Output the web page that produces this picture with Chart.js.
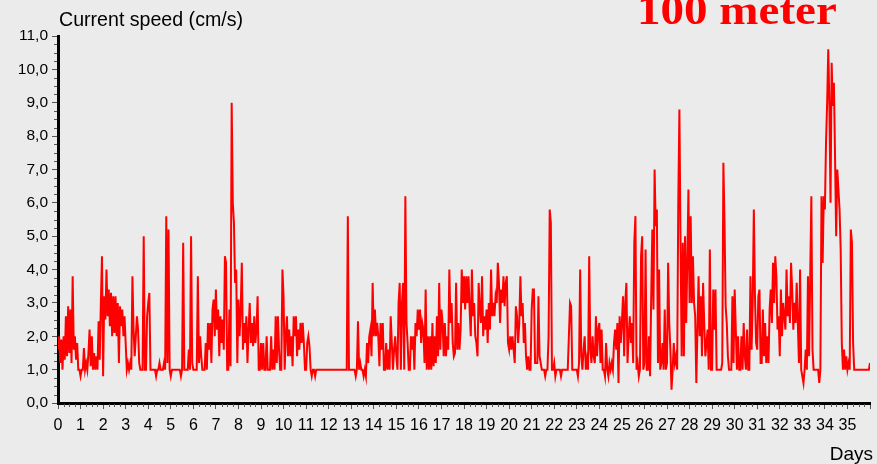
<!DOCTYPE html>
<html><head><meta charset="utf-8">
<script src="https://cdn.jsdelivr.net/npm/chart.js@4/dist/chart.umd.min.js"></script>
<style>
html,body{margin:0;padding:0;background:#ebebeb;}
#wrap{position:relative;width:877px;height:464px;overflow:hidden;background:#ebebeb;}
canvas{position:absolute;left:0;top:0;}
.t{position:absolute;white-space:nowrap;font-family:"Liberation Sans",Arial,sans-serif;color:#000;}
</style></head><body>
<div id="wrap">
<canvas id="c" width="877" height="464"></canvas>
<div class="t" id="ylab" style="left:59px;top:10px;font-size:19.6px;line-height:19.6px;">Current speed (cm/s)</div>
<div class="t" id="xlab" style="right:4px;top:444px;font-size:19px;line-height:19px;">Days</div>
<div class="t" id="ttl" style="left:637px;top:-11px;font-family:'Liberation Serif','Times New Roman',serif;font-weight:bold;font-size:42px;line-height:42px;color:#ff0000;transform:scaleX(1.12);transform-origin:0 0;">100 meter</div>
</div>
<script>
// Sampling interval of the series (days)
const STEP_DAYS = 0.05;
// Current speed (cm/s), one value every 0.05 day from day 0 to day 36 (10 values per row = 0.5 day)
const speed = [
1.6,2.0,1.2,1.9,1.0,2.0,1.3,2.6,1.4,2.9,
1.5,2.8,1.2,3.8,1.6,2.0,1.3,1.8,1.0,1.0,
0.8,1.0,1.0,1.65,1.0,1.2,1.0,1.5,2.2,1.1,
2.0,1.0,1.5,1.0,1.4,1.0,2.45,1.3,3.0,4.4,
0.8,3.2,2.5,4.0,2.6,3.4,2.3,3.3,2.0,3.2,
2.1,3.2,2.0,3.0,1.2,2.9,2.3,2.8,2.0,2.6,
1.8,1.0,1.2,1.0,1.2,1.0,3.8,2.2,1.4,2.0,
2.6,2.2,1.2,1.0,1.0,1.0,5.0,1.0,1.0,2.6,
3.0,3.3,1.0,1.0,1.0,1.0,1.0,0.8,1.0,1.0,
1.2,1.0,1.0,1.0,1.2,1.0,5.6,1.2,5.2,1.0,
0.8,1.0,1.0,1.0,1.0,1.0,1.0,1.0,1.0,0.8,
1.0,4.8,1.0,1.0,1.0,1.0,1.6,1.0,5.0,1.2,
1.0,1.0,1.0,1.0,3.8,1.2,2.0,1.4,1.0,1.0,
1.0,1.8,1.0,2.4,1.6,2.4,1.2,2.8,3.1,2.0,
3.4,2.2,2.8,1.4,2.6,1.8,2.5,1.6,4.4,4.2,
1.0,1.0,2.8,1.1,9.0,6.0,5.4,3.6,4.0,1.2,
3.1,2.0,2.8,4.2,1.6,2.4,1.8,2.6,1.2,2.2,
3.0,1.8,2.4,1.7,2.6,1.8,2.2,3.2,1.0,1.0,
1.8,1.0,1.8,1.0,1.0,2.0,1.0,1.0,1.0,2.0,
1.0,1.6,1.0,2.6,1.2,2.6,1.6,1.0,1.0,4.0,
3.2,1.0,2.0,2.6,1.4,2.2,1.4,2.0,1.1,2.6,
2.0,2.6,1.4,2.2,1.6,2.4,1.8,2.4,1.8,1.0,
1.0,1.8,2.0,1.7,1.0,0.8,1.0,1.0,0.8,1.0,
1.0,1.0,1.0,1.0,1.0,1.0,1.0,1.0,1.0,1.0,
1.0,1.0,1.0,1.0,1.0,1.0,1.0,1.0,1.0,1.0,
1.0,1.0,1.0,1.0,1.0,1.0,1.0,5.6,1.0,1.0,
1.0,1.0,1.0,1.0,0.8,1.0,2.45,1.0,1.2,1.0,
1.0,0.8,1.0,0.8,1.8,1.2,2.0,2.2,1.4,3.6,
2.0,2.8,2.0,2.4,2.0,1.1,2.4,1.6,2.4,1.0,
1.0,1.8,1.0,1.6,1.0,2.6,1.8,1.0,1.6,2.0,
1.4,1.0,3.0,3.6,1.0,3.0,3.6,1.0,6.2,2.4,
1.8,1.0,1.0,2.0,1.6,2.0,1.0,2.4,2.0,2.8,
2.2,2.8,1.8,2.4,2.2,1.2,3.4,1.0,2.0,1.0,
2.0,1.0,2.4,1.1,2.0,1.2,2.6,1.4,3.6,1.6,
2.8,2.4,1.4,2.4,1.4,2.0,1.6,4.0,2.4,3.0,
1.8,1.4,1.5,3.6,1.6,2.4,1.6,2.2,4.0,3.0,
3.8,2.8,3.8,3.0,3.8,2.8,2.0,4.0,2.6,3.0,
2.0,1.8,1.4,3.6,2.8,2.4,3.8,2.0,2.6,2.2,
2.8,1.8,3.0,2.2,4.0,2.6,3.0,2.6,3.2,3.0,
4.2,3.6,2.4,3.4,3.0,3.8,2.9,3.6,3.8,1.8,
1.6,2.0,1.6,2.0,1.6,1.2,2.9,2.6,1.8,2.4,
3.8,2.6,3.0,1.8,2.4,1.4,1.0,1.4,1.0,1.0,
2.8,3.4,3.4,1.2,1.2,1.2,3.2,1.4,1.2,1.0,
1.0,1.0,0.8,1.0,1.0,2.0,5.8,5.4,1.0,1.0,
1.2,0.8,1.0,1.0,1.0,1.0,0.8,1.0,1.0,1.0,
1.0,1.0,1.0,2.0,3.0,2.9,1.0,1.0,1.0,1.0,
1.0,0.8,1.2,4.0,1.4,1.0,1.6,2.0,1.0,1.3,
1.0,4.4,1.6,1.2,2.0,1.4,1.2,2.6,1.4,2.2,
2.4,1.2,2.2,1.0,1.0,0.8,1.8,1.0,0.8,1.2,
1.0,1.2,1.0,1.8,2.2,1.6,2.4,0.6,2.6,1.8,
2.4,3.2,1.4,3.0,3.6,1.2,2.0,2.6,1.8,2.4,
1.2,4.8,5.6,1.0,1.2,0.8,1.0,4.4,5.0,1.0,
1.2,4.6,1.0,1.0,2.0,0.8,3.2,5.2,2.8,7.0,
5.3,5.8,1.2,4.0,1.0,1.2,1.8,1.0,2.8,1.0,
1.2,4.2,2.4,1.6,0.4,1.0,1.8,1.2,1.4,1.0,
6.0,8.8,4.8,1.4,4.8,1.4,5.0,2.4,4.2,6.4,
3.0,5.6,3.0,4.4,3.0,2.6,0.6,2.2,3.8,2.0,
3.2,1.4,3.6,2.4,1.4,1.8,2.2,1.0,4.6,1.0,
1.0,3.4,2.2,3.4,1.0,1.0,1.0,1.0,1.0,1.2,
7.2,5.4,2.9,2.4,1.4,1.0,1.0,1.0,3.2,1.2,
3.4,2.2,1.0,2.0,1.0,1.0,2.0,1.0,2.4,1.4,
1.0,2.2,1.0,1.0,3.8,1.6,3.0,5.8,3.2,1.8,
1.6,3.2,3.4,1.2,1.2,2.8,1.4,2.4,1.2,2.0,
1.2,2.8,3.4,2.4,4.2,3.0,4.4,3.8,2.2,2.6,
1.4,3.4,2.0,3.0,2.6,2.2,4.0,2.6,3.2,2.4,
4.2,3.4,2.2,3.0,2.4,3.6,2.4,1.2,4.0,1.0,
0.8,0.6,1.0,1.6,1.0,3.8,1.4,3.8,6.2,1.6,
1.0,1.0,1.0,1.0,1.0,0.6,1.0,6.2,4.2,6.2,
5.8,7.8,9.0,10.6,8.9,6.0,10.2,8.9,9.6,7.4,
5.0,7.0,6.4,5.8,4.6,1.8,1.0,1.6,1.0,1.4,
1.0,1.2,1.0,5.2,4.8,1.8,1.0,1.0,1.0,1.0,
1.0,1.0,1.0,1.0,1.0,1.0,1.0,1.0,1.0,1.0,
1.2
];
// Time of each sample (days)
const days = speed.map((_, i) => Math.round(i * STEP_DAYS * 100) / 100);
const X_MIN = 0, X_MAX = 36, X_LAST_LABEL = 35;
const Y_MIN = 0, Y_MAX = 11;

const points = days.map((d, i) => ({ x: d, y: speed[i] }));

const minorTicks = {
  id: 'minorTicks',
  afterDraw(chart) {
    const ctx = chart.ctx, xs = chart.scales.x, ys = chart.scales.y;
    ctx.save();
    ctx.strokeStyle = '#555';
    ctx.lineWidth = 1;
    ctx.beginPath();
    for (let k = X_MIN * 4; k <= X_MAX * 4; k++) {
      if (k % 4 === 0) continue;
      const px = Math.round(xs.getPixelForValue(k / 4)) + 0.5;
      ctx.moveTo(px, ys.bottom + 1);
      ctx.lineTo(px, ys.bottom + 4);
    }
    for (let k = Y_MIN * 4; k <= Y_MAX * 4; k++) {
      if (k % 4 === 0) continue;
      const py = Math.round(ys.getPixelForValue(k / 4)) + 0.5;
      ctx.moveTo(xs.left - 4, py);
      ctx.lineTo(xs.left - 1, py);
    }
    ctx.stroke();
    ctx.restore();
  }
};

new Chart(document.getElementById('c'), {
  type: 'line',
  data: { datasets: [{ data: points, borderColor: '#ff0000', borderWidth: 2, pointRadius: 0, tension: 0, fill: false }] },
  options: {
    responsive: false,
    animation: false,
    layout: { padding: { top: 36, right: 0, bottom: 0, left: 0 } },
    plugins: { legend: { display: false }, tooltip: { enabled: false } },
    scales: {
      x: {
        type: 'linear', min: X_MIN, max: X_MAX,
        afterFit(s) { s.height = 61; },
        ticks: { stepSize: 1, autoSkip: false, maxRotation: 0, padding: 7, color: '#000',
          font: { family: '"Liberation Sans", Arial, sans-serif', size: 16 },
          callback: v => (v <= X_LAST_LABEL ? String(v) : '') },
        grid: { drawOnChartArea: false, tickLength: 6, tickColor: '#555', tickWidth: 1 },
        border: { color: '#000', width: 3 }
      },
      y: {
        type: 'linear', min: Y_MIN, max: Y_MAX,
        afterFit(s) { s.width = 58; },
        ticks: { stepSize: 1, padding: 4, color: '#000',
          font: { family: '"Liberation Sans", Arial, sans-serif', size: 15.5 },
          callback: v => Number(v).toFixed(1).replace('.', ',') },
        grid: { drawOnChartArea: false, tickLength: 6, tickColor: '#555', tickWidth: 1 },
        border: { color: '#000', width: 3 }
      }
    }
  },
  plugins: [minorTicks]
});
</script>
</body></html>
